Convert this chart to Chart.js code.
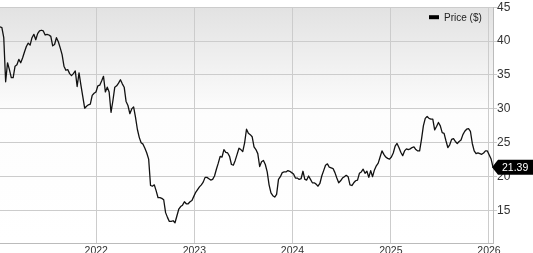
<!DOCTYPE html>
<html>
<head>
<meta charset="utf-8">
<title>Price ($)</title>
<script src="https://cdn.jsdelivr.net/npm/chart.js@4.4.0/dist/chart.umd.min.js"></script>
<style>
  html, body { margin: 0; padding: 0; background: #fff; overflow: hidden; }
  canvas { display: block; }
</style>
</head>
<body>
<canvas id="priceChart" width="533" height="253"></canvas>
<script>
// Weekly closing prices, one array per calendar year (first week: Fri 8 Jan 2021)
const p2021 = [
  42.1, 42.0, 40.5, 34.0, 36.8, 35.8, 34.6, 34.6, 36.3, 36.5,
  37.3, 36.8, 37.5, 38.4, 39.2, 39.7, 39.4, 40.5, 41.0, 40.2,
  41.1, 41.5, 41.6, 41.5, 40.9, 41.0, 40.9, 40.7, 39.3, 39.5,
  40.5, 39.9, 39.0, 38.0, 36.3, 35.7, 35.8, 35.2, 34.9, 35.2,
  35.6, 33.3, 35.3, 33.5, 31.8, 30.1, 30.4, 30.6, 30.7, 32.0,
  32.3, 32.5
];
const p2022 = [
  33.4, 33.5, 34.1, 34.8, 32.5, 33.2, 32.5, 29.5, 31.2, 33.2,
  33.4, 33.8, 34.3, 33.7, 33.2, 31.1, 30.5, 29.3, 30.0, 30.3,
  28.8, 27.0, 25.8, 25.0, 24.8, 24.2, 23.5, 22.6, 18.7, 18.6,
  18.8, 17.9, 16.9, 16.9, 16.8, 16.6, 14.7, 14.0, 13.4, 13.4,
  13.5, 13.2, 14.2, 15.2, 15.6, 15.8, 16.3, 16.0, 16.0, 16.3,
  16.5, 17.1
];
const p2023 = [
  17.7, 18.1, 18.5, 18.8, 19.2, 19.9, 19.9, 19.7, 19.5, 19.6,
  20.1, 21.1, 22.0, 23.0, 22.9, 24.0, 23.6, 23.5, 23.0, 21.8,
  21.7, 22.4, 23.3, 24.2, 24.0, 23.7, 25.0, 27.0, 26.4, 26.2,
  25.9, 24.4, 24.0, 23.4, 21.5, 22.2, 22.4, 21.8, 20.7, 18.8,
  17.6, 17.2, 17.0, 17.4, 19.6, 20.0, 20.6, 20.7, 20.7, 20.9,
  20.8, 20.6
];
const p2024 = [
  20.4, 19.8, 19.8, 19.6, 19.7, 20.8, 19.6, 19.5, 20.1, 19.6,
  19.1, 19.1, 18.9, 18.6, 19.0, 20.1, 20.9, 21.7, 21.9, 21.4,
  21.3, 21.2, 20.6, 19.8, 19.1, 19.4, 19.8, 20.0, 20.2, 20.0,
  18.8, 18.7, 19.1, 19.4, 19.5, 20.5, 20.7, 21.1, 20.5, 20.8,
  19.9, 20.9, 20.0, 21.0, 21.6, 22.0, 22.9, 23.8, 23.3, 22.9,
  22.7, 22.6
];
const p2025 = [
  22.9, 23.5, 24.5, 24.9, 24.3, 23.6, 23.1, 23.8, 24.1, 24.0,
  24.1, 24.3, 24.4, 24.0, 23.8, 23.8, 25.5, 27.5, 28.6, 28.9,
  28.6, 28.5, 28.5, 26.9, 27.4, 28.0, 27.5, 26.5, 26.4, 25.3,
  24.3, 24.7, 25.5, 25.6, 25.2, 24.9, 25.2, 25.4, 26.2, 26.7,
  27.0, 27.1, 26.7, 24.9, 23.8, 23.4, 23.5, 23.4, 23.3, 23.5,
  23.8, 23.8
];
const p2026 = [23.2, 22.6, 21.39];

const yearTicks = [2022, 2023, 2024, 2025, 2026];
const priceTicks = [15, 20, 25, 30, 35, 40, 45];
const seriesName = "Price ($)";

const prices = [...p2021, ...p2022, ...p2023, ...p2024, ...p2025, ...p2026];
const firstWeek = Date.UTC(2021, 0, 8);
const WEEK = 7 * 24 * 3600 * 1000;
const points = prices.map((v, i) => ({ x: firstWeek + i * WEEK, y: v }));
const lastPrice = prices[prices.length - 1];

const FONT = '"Liberation Sans", Arial, Helvetica, sans-serif';
Chart.defaults.font.family = FONT;

// panel background, legend and last-price tag
const decorations = {
  id: "decorations",
  beforeDraw(chart) {
    const { ctx, chartArea: a } = chart;
    ctx.save();
    ctx.fillStyle = "#ffffff";
    ctx.fillRect(0, 0, chart.width, chart.height);
    const g = ctx.createLinearGradient(0, a.top, 0, a.bottom);
    g.addColorStop(0, "#e2e2e2");
    g.addColorStop(0.45, "#fdfdfd");
    g.addColorStop(1, "#ffffff");
    ctx.fillStyle = g;
    ctx.fillRect(a.left, a.top, a.right - a.left, a.bottom - a.top);
    ctx.restore();
  },
  afterDraw(chart) {
    const { ctx, chartArea: a } = chart;
    ctx.save();

    // legend
    ctx.fillStyle = "#000";
    ctx.fillRect(a.right - 64, a.top + 8, 10, 4);
    ctx.fillStyle = "#222";
    ctx.font = "10px " + FONT;
    ctx.textBaseline = "middle";
    ctx.textAlign = "left";
    ctx.fillText(seriesName, a.right - 49, a.top + 11);

    // last price tag
    const y = chart.scales.y.getPixelForValue(lastPrice);
    ctx.fillStyle = "#000";
    ctx.beginPath();
    ctx.moveTo(a.right - 1, y);
    ctx.lineTo(a.right + 5, y - 7.5);
    ctx.lineTo(chart.width, y - 7.5);
    ctx.lineTo(chart.width, y + 7.5);
    ctx.lineTo(a.right + 5, y + 7.5);
    ctx.closePath();
    ctx.fill();
    ctx.fillStyle = "#fff";
    ctx.font = "10.5px " + FONT;
    ctx.fillText(lastPrice.toFixed(2), a.right + 9, y + 0.5);

    ctx.restore();
  }
};

new Chart(document.getElementById("priceChart"), {
  type: "line",
  data: {
    datasets: [
      {
        label: seriesName,
        data: points,
        borderColor: "#111",
        borderWidth: 1.3,
        borderJoinStyle: "round",
        pointRadius: 0,
        tension: 0,
        fill: false,
      },
    ],
  },
  options: {
    responsive: false,
    animation: false,
    devicePixelRatio: 1,
    layout: { padding: { top: 4, left: 0, right: 0, bottom: 0 } },
    plugins: {
      legend: { display: false },
      tooltip: { enabled: false },
    },
    scales: {
      x: {
        type: "linear",
        min: firstWeek,
        max: firstWeek + (prices.length - 1) * WEEK,
        afterBuildTicks: (axis) => {
          axis.ticks = yearTicks.map((yr) => ({ value: Date.UTC(yr, 0, 1) }));
        },
        afterFit: (axis) => {
          axis.height = 10;
        },
        grid: { color: "#cccccc", drawTicks: false },
        border: { display: true, color: "#bbbbbb" },
        ticks: {
          padding: 2,
          autoSkip: false,
          maxRotation: 0,
          color: "#333",
          font: { size: 10.5 },
          callback: (v) => String(new Date(v).getUTCFullYear()),
        },
      },
      y: {
        position: "right",
        min: 10.22,
        max: 45,
        afterBuildTicks: (axis) => {
          axis.ticks = priceTicks.map((v) => ({ value: v }));
        },
        afterFit: (axis) => {
          axis.width = 40;
        },
        grid: { color: "#cccccc", tickLength: 4 },
        border: { display: true, color: "#bbbbbb" },
        ticks: {
          padding: 0,
          color: "#333",
          font: { size: 12 },
        },
      },
    },
  },
  plugins: [decorations],
});
</script>
</body>
</html>
